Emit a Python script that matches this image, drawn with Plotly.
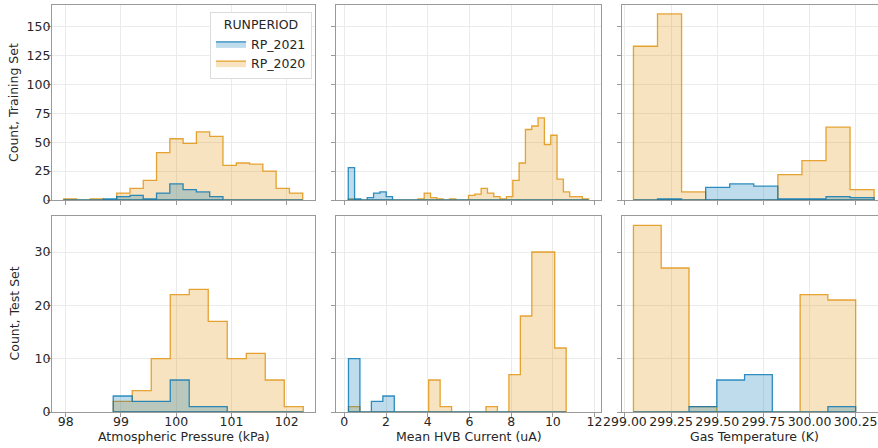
import numpy as np
import plotly.graph_objects as go

# ---------------- data ----------------
hue_levels = ["RP_2021", "RP_2020"]
palette = {"RP_2021": "#0173b2", "RP_2020": "#de8f05"}

# Atmospheric pressure (kPa)
pressure_train_range = (97.96, 102.29)
pressure_train_2020 = [1, 0, 1, 0, 6, 10, 17, 41, 53, 49, 59, 55, 30, 32, 31, 25, 10, 6]
pressure_train_2021 = [0, 0, 0, 1, 3, 4, 1, 6, 14, 9, 7, 3, 0, 0, 0, 0, 0, 0]
pressure_test_range = (98.86, 102.30)
pressure_test_2020 = [2, 4, 10, 22, 23, 17, 10, 11, 6, 1]
pressure_test_2021 = [3, 2, 2, 6, 1, 1, 0, 0, 0, 0]

# Mean HVB current (uA)
current_train_range = (0.19, 11.72)
current_train_2020 = [1, 0, 0, 0, 0, 0, 0, 0, 0, 0, 0, 1, 6, 2, 1, 0, 1, 0, 0,
                      4, 5, 10, 6, 3, 1, 3, 17, 32, 61, 64, 71, 48, 56, 18, 7, 3, 3, 1]
current_train_2021 = [28, 1, 0, 2, 6, 7, 3, 0, 0, 0, 0, 0, 0, 0, 0, 0, 0, 0, 0,
                      0, 0, 0, 0, 0, 0, 0, 0, 0, 0, 0, 0, 0, 0, 0, 0, 0, 0, 0]
current_test_range = (0.20, 10.64)
current_test_2020 = [1, 0, 0, 0, 0, 0, 0, 6, 1, 0, 0, 0, 1, 0, 7, 18, 30, 30, 12]
current_test_2021 = [10, 0, 2, 3, 0, 0, 0, 0, 0, 0, 0, 0, 0, 0, 0, 0, 0, 0, 0]

# Gas temperature (K)
temp_train_range = (299.046, 300.35)
temp_train_2020 = [133, 161, 7, 0, 0, 0, 22, 34, 63, 9]
temp_train_2021 = [0, 1, 0, 11, 14, 12, 1, 1, 3, 2]
temp_test_range = (299.046, 300.25)
temp_test_2020 = [35, 27, 1, 0, 0, 0, 22, 21]
temp_test_2021 = [0, 0, 1, 6, 7, 0, 0, 1]

x_titles = ["Atmospheric Pressure (kPa)", "Mean HVB Current (uA)", "Gas Temperature (K)"]
y_titles = ["Count, Training Set", "Count, Test Set"]

x_ticks = [[98, 99, 100, 101, 102],
           [0, 2, 4, 6, 8, 10, 12],
           [299.00, 299.25, 299.50, 299.75, 300.00, 300.25]]
y_ticks = [[0, 25, 50, 75, 100, 125, 150], [0, 10, 20, 30]]

panels = [
    [(pressure_train_range, pressure_train_2021, pressure_train_2020),
     (current_train_range, current_train_2021, current_train_2020),
     (temp_train_range, temp_train_2021, temp_train_2020)],
    [(pressure_test_range, pressure_test_2021, pressure_test_2020),
     (current_test_range, current_test_2021, current_test_2020),
     (temp_test_range, temp_test_2021, temp_test_2020)],
]

# ---------------- layout geometry ----------------
W, H = 878, 448
col_px = [(52, 315), (336, 601), (622, 878)]
row_px = [(5, 200), (216, 412)]
x_ranges = [[97.752, 102.512], [-0.398, 12.31], [298.984, 300.371]]
y_ranges = [[0, 168.7], [0, 36.75]]

FONT = "DejaVu Sans"
TXT = "#262626"
SPINE = "#9a9a9a"
GRID = "#ebebeb"
FS = 12.5


def hexrgba(h, a):
    h = h.lstrip("#")
    r, g, b = int(h[0:2], 16), int(h[2:4], 16), int(h[4:6], 16)
    return f"rgba({r},{g},{b},{a})"


def step_path(rng, counts):
    edges = np.linspace(rng[0], rng[1], len(counts) + 1)
    xs, ys = [edges[0]], [0]
    for i, c in enumerate(counts):
        xs += [edges[i], edges[i + 1]]
        ys += [c, c]
    xs += [edges[-1], edges[0]]
    ys += [0, 0]
    return xs, ys


fig = go.Figure()

for r in range(2):
    for c in range(3):
        idx = r * 3 + c + 1
        rng, c2021, c2020 = panels[r][c]
        sfx = "" if idx == 1 else str(idx)
        # RP_2020 drawn first, RP_2021 on top
        for level, counts in (("RP_2020", c2020), ("RP_2021", c2021)):
            xs, ys = step_path(rng, counts)
            fig.add_trace(go.Scatter(
                x=xs, y=ys, mode="lines", fill="toself",
                fillcolor=hexrgba(palette[level], 0.25),
                line=dict(color=hexrgba(palette[level], 0.8), width=1.3),
                name=level,
                legendrank=1 if level == "RP_2021" else 2,
                showlegend=(idx == 1),
                xaxis="x" + sfx, yaxis="y" + sfx,
                hoverinfo="skip",
            ))

annotations = []
for c in range(3):
    annotations.append(dict(
        text=x_titles[c], xref="paper", yref="paper",
        x=(col_px[c][0] + col_px[c][1]) / 2 / W if c < 2 else (622 + 886) / 2 / W,
        y=1 - 436.5 / H, xanchor="center", yanchor="middle", showarrow=False,
        font=dict(family=FONT, size=FS, color=TXT)))
for r in range(2):
    annotations.append(dict(
        text=y_titles[r], xref="paper", yref="paper",
        x=13.5 / W, y=1 - (row_px[r][0] + row_px[r][1]) / 2 / H,
        xanchor="center", yanchor="middle", textangle=-90, showarrow=False,
        font=dict(family=FONT, size=FS, color=TXT)))

layout = dict(
    width=W, height=H,
    margin=dict(l=0, r=0, t=0, b=0, autoexpand=False),
    paper_bgcolor="white", plot_bgcolor="white",
    font=dict(family=FONT, size=12, color=TXT),
    showlegend=True,
    annotations=annotations,
    legend=dict(
        x=210 / W, y=1 - 12 / H, xanchor="left", yanchor="top",
        bgcolor="white", bordercolor="#dcdcdc", borderwidth=1,
        font=dict(family=FONT, size=FS, color=TXT),
        title=dict(text="RUNPERIOD", side="top center",
                   font=dict(family=FONT, size=FS, color=TXT)),
        itemwidth=30, tracegroupgap=0,
    ),
)

for r in range(2):
    for c in range(3):
        idx = r * 3 + c + 1
        sfx = "" if idx == 1 else str(idx)
        x0, x1 = col_px[c]
        y0, y1 = row_px[r]
        xa = dict(
            domain=[x0 / W, x1 / W], range=x_ranges[c], anchor="y" + sfx,
            automargin=False, tickangle=0, ticklabelstandoff=-6,
            showline=True, linecolor=SPINE, linewidth=1.25, mirror=True,
            showgrid=True, gridcolor=GRID, gridwidth=1, zeroline=False,
            ticks="outside", ticklen=4, tickwidth=1, tickcolor=SPINE,
            tickvals=x_ticks[c], showticklabels=(r == 1),
            tickfont=dict(family=FONT, size=FS, color=TXT),
        )
        if c == 2:
            xa["tickformat"] = ".2f"
        ya = dict(
            domain=[1 - y1 / H, 1 - y0 / H], range=y_ranges[r], anchor="x" + sfx,
            automargin=False, ticklabelstandoff=-6,
            showline=True, linecolor=SPINE, linewidth=1.25, mirror=(c != 2),
            showgrid=True, gridcolor=GRID, gridwidth=1, zeroline=False,
            ticks="outside", ticklen=4, tickwidth=1, tickcolor=SPINE,
            tickvals=y_ticks[r], showticklabels=(c == 0),
            tickfont=dict(family=FONT, size=FS, color=TXT),
        )
        layout["xaxis" + sfx] = xa
        layout["yaxis" + sfx] = ya

fig.update_layout(**layout)
fig.write_html("out.html", config={"displayModeBar": False},
               post_script="document.body.style.margin='0px';")
